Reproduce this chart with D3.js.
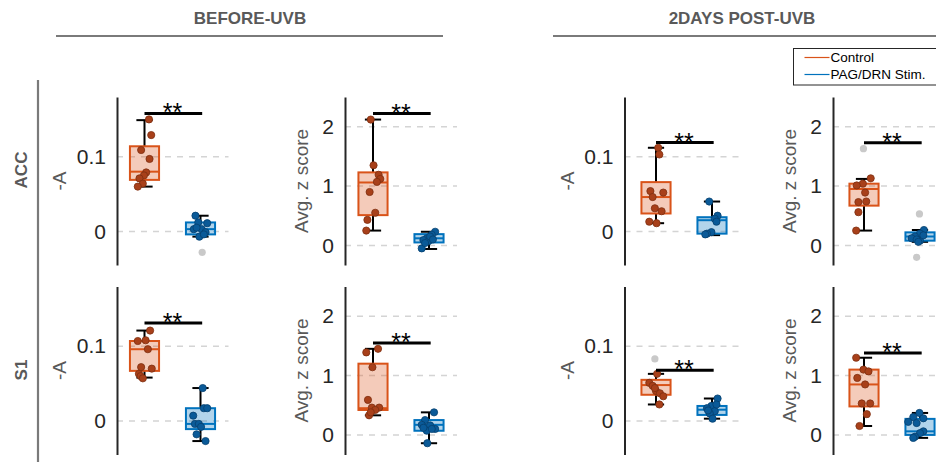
<!DOCTYPE html>
<html lang="en">
<head>
<meta charset="UTF-8">
<title>Before / after UVB</title>
<script src="https://cdn.jsdelivr.net/npm/d3@7"></script>
<style>
  body { margin: 0; background: #fff; }
  svg { display: block; font-family: "Liberation Sans", Arial, sans-serif; }
</style>
</head>
<body>
<div id="chart"></div>
<script>
// labels
const groups = ["Control", "PAG/DRN Stim."];
const rowNames = ["ACC", "S1"];
const conditions = ["BEFORE-UVB", "2DAYS POST-UVB"];
const ticksA = [0, 0.1];
const ticksZ = [0, 1, 2];

// box stats per group: [low whisker, q1, median, q3, high whisker]
// points: [x in category units, value]
const accPreA_box = [[0.060, 0.069, 0.080, 0.114, 0.149], [-0.007, -0.004, 0.003, 0.012, 0.021]];
const accPreA_ctrl = [[1.08, 0.150], [1.12, 0.129], [0.94, 0.109], [1.09, 0.097], [1.03, 0.079], [0.99, 0.075], [0.91, 0.071], [0.97, 0.064], [0.88, 0.060]];
const accPreA_stim = [[1.91, 0.021], [1.96, 0.012], [2.12, 0.011], [1.88, 0.003], [2.02, 0.003], [2.09, -0.001], [1.98, -0.007], [1.93, 0.005], [2.06, -0.004]];
const accPreA_out = [[2.03, -0.028]];

const accPreZ_box = [[0.25, 0.51, 1.06, 1.23, 2.12], [-0.06, 0.05, 0.12, 0.19, 0.23]];
const accPreZ_ctrl = [[0.96, 2.12], [1.01, 1.35], [1.10, 1.19], [1.13, 1.12], [1.07, 1.07], [0.94, 0.90], [1.04, 0.55], [0.90, 0.43], [0.88, 0.25]];
const accPreZ_stim = [[2.11, 0.23], [2.05, 0.18], [1.96, 0.12], [1.90, 0.09], [1.99, 0.07], [1.87, -0.05], [2.02, 0.15], [1.93, 0.04], [2.07, 0.10]];
const accPreZ_out = [];

const accPostA_box = [[0.011, 0.024, 0.046, 0.066, 0.112], [-0.005, -0.003, 0.015, 0.019, 0.040]];
const accPostA_ctrl = [[1.04, 0.112], [1.06, 0.103], [0.90, 0.054], [1.13, 0.052], [0.94, 0.046], [0.98, 0.031], [1.10, 0.027], [0.88, 0.013], [1.01, 0.011]];
const accPostA_stim = [[1.95, 0.040], [2.10, 0.021], [2.05, 0.017], [2.08, 0.013], [1.99, -0.001], [1.91, -0.003], [1.88, -0.004]];
const accPostA_out = [];

const accPostZ_box = [[0.25, 0.67, 0.95, 1.04, 1.12], [0.06, 0.08, 0.15, 0.22, 0.26]];
const accPostZ_ctrl = [[1.12, 1.13], [0.98, 1.04], [0.87, 1.01], [1.02, 0.89], [0.90, 0.73], [1.04, 0.74], [0.90, 0.56], [0.86, 0.25]];
const accPostZ_stim = [[2.07, 0.26], [2.00, 0.20], [1.91, 0.15], [1.85, 0.12], [2.00, 0.08], [1.94, 0.10], [2.06, 0.17], [1.97, 0.06]];
const accPostZ_out = [[0.99, 1.63], [1.99, 0.53], [1.94, -0.20]];

const s1PreA_box = [[0.058, 0.067, 0.096, 0.107, 0.121], [-0.027, -0.011, -0.004, 0.017, 0.044]];
const s1PreA_ctrl = [[1.10, 0.121], [1.02, 0.108], [0.88, 0.107], [1.06, 0.096], [0.94, 0.072], [1.13, 0.070], [0.90, 0.063], [0.93, 0.060], [0.97, 0.057]];
const s1PreA_stim = [[2.04, 0.044], [2.06, 0.017], [2.12, 0.017], [1.87, 0.007], [1.90, -0.004], [1.97, -0.004], [2.01, -0.008], [1.93, -0.018], [2.09, -0.027]];
const s1PreA_out = [];

const s1PreZ_box = [[0.33, 0.42, 0.45, 1.20, 1.45], [-0.14, 0.07, 0.17, 0.25, 0.38]];
const s1PreZ_ctrl = [[1.09, 1.45], [0.88, 1.39], [0.99, 1.14], [0.91, 0.59], [0.98, 0.46], [1.11, 0.46], [1.04, 0.42], [0.93, 0.33], [0.96, 0.38]];
const s1PreZ_stim = [[2.09, 0.38], [1.93, 0.25], [1.87, 0.17], [2.02, 0.16], [2.11, 0.10], [1.96, 0.07], [1.97, -0.14], [2.05, 0.10], [1.90, 0.12]];
const s1PreZ_out = [];

const s1PostA_box = [[0.022, 0.035, 0.048, 0.055, 0.063], [0.003, 0.008, 0.015, 0.020, 0.030]];
const s1PostA_ctrl = [[1.02, 0.063], [0.88, 0.051], [0.94, 0.047], [1.00, 0.040], [1.07, 0.037], [1.13, 0.033], [1.06, 0.022], [0.98, 0.044]];
const s1PostA_stim = [[2.10, 0.030], [1.99, 0.020], [1.91, 0.017], [2.05, 0.013], [1.96, 0.010], [2.01, 0.003], [1.93, 0.014], [2.08, 0.022]];
const s1PostA_out = [[0.98, 0.083]];

const s1PostZ_box = [[0.15, 0.48, 0.85, 1.10, 1.30], [-0.05, 0.00, 0.06, 0.27, 0.37]];
const s1PostZ_ctrl = [[0.86, 1.30], [0.99, 1.10], [1.08, 1.07], [0.88, 0.96], [1.02, 0.85], [0.96, 0.53], [1.11, 0.53], [1.05, 0.35], [0.92, 0.15]];
const s1PostZ_stim = [[1.99, 0.37], [1.88, 0.30], [2.06, 0.28], [1.79, 0.22], [1.94, 0.20], [2.06, 0.06], [2.00, 0.03], [1.91, -0.03], [1.88, -0.05]];
const s1PostZ_out = [];

// height of the significance bar in each panel
const sigHeights = [0.158, 2.22, 0.119, 1.73, 0.131, 1.55, 0.068, 1.38];

const panels = [
  { row: 0, col: 0, type: "A", box: accPreA_box, ctrl: accPreA_ctrl, stim: accPreA_stim, out: accPreA_out },
  { row: 0, col: 1, type: "Z", box: accPreZ_box, ctrl: accPreZ_ctrl, stim: accPreZ_stim, out: accPreZ_out },
  { row: 0, col: 2, type: "A", box: accPostA_box, ctrl: accPostA_ctrl, stim: accPostA_stim, out: accPostA_out },
  { row: 0, col: 3, type: "Z", box: accPostZ_box, ctrl: accPostZ_ctrl, stim: accPostZ_stim, out: accPostZ_out },
  { row: 1, col: 0, type: "A", box: s1PreA_box, ctrl: s1PreA_ctrl, stim: s1PreA_stim, out: s1PreA_out },
  { row: 1, col: 1, type: "Z", box: s1PreZ_box, ctrl: s1PreZ_ctrl, stim: s1PreZ_stim, out: s1PreZ_out },
  { row: 1, col: 2, type: "A", box: s1PostA_box, ctrl: s1PostA_ctrl, stim: s1PostA_stim, out: s1PostA_out },
  { row: 1, col: 3, type: "Z", box: s1PostZ_box, ctrl: s1PostZ_ctrl, stim: s1PostZ_stim, out: s1PostZ_out }
];

// layout
const W = 936, H = 462;
const axisX = [117, 345, 624.5, 833];
const plotLeft = [116.5, 345, 628, 836];
const plotW = 112;
const rowTop = [97, 286.5];
const plotH = 168;
const lineColors = ["#D95319", "#0072BD"];
const dotColors = ["#A8401A", "#0A5A98"];
const dotStroke = ["#7E2E10", "#06406E"];
const txtGray = "#595959";

const svg = d3.select("#chart").append("svg")
  .attr("width", W).attr("height", H);

// column headers
const headCenters = [250, 742];
const headLines = [[56, 443], [553, 936]];
conditions.forEach((c, i) => {
  svg.append("text")
    .attr("x", headCenters[i]).attr("y", 24)
    .attr("text-anchor", "middle")
    .attr("font-size", 17).attr("font-weight", "bold")
    .attr("fill", txtGray)
    .text(c);
  svg.append("line")
    .attr("x1", headLines[i][0]).attr("x2", headLines[i][1])
    .attr("y1", 36).attr("y2", 36)
    .attr("stroke", "#7a7a7a").attr("stroke-width", 2.2);
});

// row labels and left bar
svg.append("line")
  .attr("x1", 38).attr("x2", 38).attr("y1", 80).attr("y2", H)
  .attr("stroke", "#7a7a7a").attr("stroke-width", 2.2);
const rowLabelY = [170, 370];
rowNames.forEach((r, i) => {
  svg.append("text")
    .attr("transform", `translate(27,${rowLabelY[i]}) rotate(-90)`)
    .attr("text-anchor", "middle")
    .attr("font-size", 17).attr("font-weight", "bold")
    .attr("fill", txtGray)
    .text(r);
});

panels.forEach((p, pi) => {
  const top = rowTop[p.row];
  const ax = axisX[p.col];
  const x = d3.scaleLinear().domain([0.5, 2.5])
    .range([plotLeft[p.col], plotLeft[p.col] + plotW]);
  const y = d3.scaleLinear()
    .domain(p.type === "A" ? [-0.045, 0.18] : [-0.33, 2.5])
    .range([top + plotH, top]);
  const ticks = p.type === "A" ? ticksA : ticksZ;
  const g = svg.append("g");

  // dashed grid
  g.selectAll(".grid").data(ticks).enter().append("line")
    .attr("x1", ax).attr("x2", x(2.5))
    .attr("y1", d => y(d)).attr("y2", d => y(d))
    .attr("stroke", "#d4d4d4").attr("stroke-width", 1.5)
    .attr("stroke-dasharray", "6,6");

  // y axis via d3
  const yAxis = d3.axisLeft(y).tickValues(ticks)
    .tickFormat(d3.format("")).tickSize(0).tickPadding(11);
  const axG = g.append("g").attr("transform", `translate(${ax},0)`).call(yAxis);
  axG.select(".domain").attr("stroke", "#262626").attr("stroke-width", 2);
  axG.selectAll("text").attr("font-size", 21).attr("fill", "#262626")
    .attr("font-family", "'Liberation Sans', Arial, sans-serif");

  // y label
  const labOff = p.type === "A" ? 57 : 43;
  g.append("text")
    .attr("transform", `translate(${ax - labOff + 6},${top + plotH / 2}) rotate(-90)`)
    .attr("text-anchor", "middle")
    .attr("font-size", 19).attr("fill", txtGray)
    .text(p.type === "A" ? "-A" : "Avg. z score");

  // boxes
  const half = 0.26, cap = 0.145;
  p.box.forEach((b, gi) => {
    const cx = gi + 1;
    const [lo, q1, med, q3, hi] = b;
    g.append("rect")
      .attr("x", x(cx - half)).attr("width", x(cx + half) - x(cx - half))
      .attr("y", y(q3)).attr("height", y(q1) - y(q3))
      .attr("fill", lineColors[gi]).attr("fill-opacity", 0.3);
    [[lo, q1], [q3, hi]].forEach(([a, c]) => {
      g.append("line").attr("x1", x(cx)).attr("x2", x(cx))
        .attr("y1", y(a)).attr("y2", y(c))
        .attr("stroke", "#000").attr("stroke-width", 2);
    });
    [lo, hi].forEach(v => {
      g.append("line").attr("x1", x(cx - cap)).attr("x2", x(cx + cap))
        .attr("y1", y(v)).attr("y2", y(v))
        .attr("stroke", "#000").attr("stroke-width", 2);
    });
    g.append("rect")
      .attr("x", x(cx - half)).attr("width", x(cx + half) - x(cx - half))
      .attr("y", y(q3)).attr("height", y(q1) - y(q3))
      .attr("fill", "none").attr("stroke", lineColors[gi]).attr("stroke-width", 2);
    g.append("line")
      .attr("x1", x(cx - half)).attr("x2", x(cx + half))
      .attr("y1", y(med)).attr("y2", y(med))
      .attr("stroke", lineColors[gi]).attr("stroke-width", 2);
  });

  // outliers
  g.selectAll(".out").data(p.out).enter().append("circle")
    .attr("cx", d => x(d[0])).attr("cy", d => y(d[1])).attr("r", 3.6)
    .attr("fill", "#c9c9c9");

  // points
  [p.ctrl, p.stim].forEach((pts, gi) => {
    g.selectAll(null).data(pts).enter().append("circle")
      .attr("cx", d => x(d[0])).attr("cy", d => y(d[1])).attr("r", 3.6)
      .attr("fill", dotColors[gi]).attr("stroke", dotStroke[gi]).attr("stroke-width", 0.8);
  });

  // significance bar
  const sy = y(sigHeights[pi]);
  g.append("line")
    .attr("x1", x(1)).attr("x2", x(2.03))
    .attr("y1", sy).attr("y2", sy)
    .attr("stroke", "#000").attr("stroke-width", 3);
  g.append("text")
    .attr("x", x(1.5)).attr("y", sy + 8)
    .attr("text-anchor", "middle")
    .attr("font-size", 25).attr("fill", "#000")
    .text("**");
});

// legend
const leg = svg.append("g").attr("transform", "translate(793.5,48.5)");
leg.append("rect").attr("width", 150).attr("height", 36.5)
  .attr("fill", "#fff").attr("stroke", "#262626").attr("stroke-width", 1);
groups.forEach((gname, i) => {
  const ly = 9 + i * 17;
  leg.append("line").attr("x1", 11).attr("x2", 36)
    .attr("y1", ly).attr("y2", ly)
    .attr("stroke", lineColors[i]).attr("stroke-width", 1.2);
  leg.append("text").attr("x", 37).attr("y", ly + 4.5)
    .attr("font-size", 13.5).attr("fill", "#000")
    .text(gname);
});
</script>
</body>
</html>
